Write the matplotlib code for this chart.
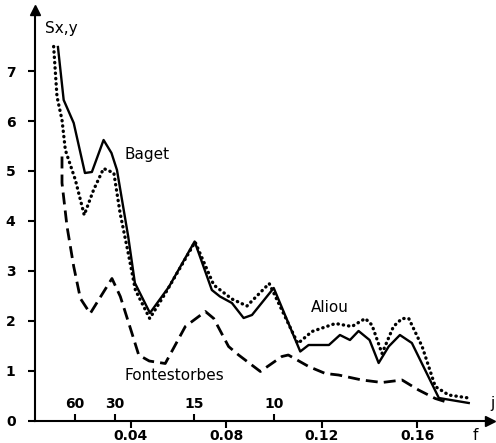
import matplotlib
matplotlib.use('Agg')
import matplotlib.pyplot as plt

# --- data (f, Sx,y) ---
baget_f = [0.0096, 0.0120, 0.0162, 0.0209, 0.0238, 0.0287, 0.0320, 0.0343, 0.0390,
           0.0418, 0.0481, 0.0560, 0.0668, 0.0740, 0.0774, 0.0824, 0.0873, 0.0908,
           0.0999, 0.1110, 0.1145, 0.1230, 0.1276, 0.1318, 0.1354, 0.1400, 0.1438,
           0.1480, 0.1527, 0.1577, 0.1690, 0.1815]
baget_s = [7.48, 6.42, 5.96, 4.96, 4.98, 5.62, 5.36, 5.02, 3.69,
           2.76, 2.16, 2.68, 3.59, 2.62, 2.49, 2.36, 2.06, 2.12,
           2.66, 1.39, 1.52, 1.52, 1.72, 1.62, 1.80, 1.62, 1.16,
           1.49, 1.72, 1.56, 0.46, 0.36]

aliou_f = [0.0078, 0.0092, 0.0113, 0.0127, 0.0169, 0.0206, 0.0245, 0.0287, 0.0330,
           0.0356, 0.0390, 0.0420, 0.0480, 0.0545, 0.0670, 0.0748, 0.0824, 0.0887,
           0.0980, 0.1100, 0.1159, 0.1257, 0.1326, 0.1382, 0.1410, 0.1452, 0.1500,
           0.1536, 0.1564, 0.1620, 0.1675, 0.1731, 0.1815]
aliou_s = [7.49, 6.49, 6.02, 5.42, 4.82, 4.12, 4.62, 5.05, 4.96,
           4.16, 3.36, 2.62, 2.05, 2.55, 3.58, 2.72, 2.44, 2.30,
           2.75, 1.55, 1.79, 1.95, 1.89, 2.05, 1.92, 1.35, 1.89,
           2.05, 2.05, 1.49, 0.69, 0.52, 0.46]

font_f = [0.0113, 0.0113, 0.0134, 0.0162, 0.0190, 0.0231, 0.0266, 0.0322, 0.0357,
          0.0406, 0.0434, 0.0478, 0.0545, 0.0629, 0.0713, 0.0748, 0.0810, 0.0852,
          0.0943, 0.1033, 0.1060, 0.1145, 0.1215, 0.1270, 0.1368, 0.1452, 0.1536,
          0.1605, 0.1675, 0.1715]
font_s = [5.29, 4.76, 3.89, 3.09, 2.45, 2.15, 2.42, 2.85, 2.49,
          1.75, 1.32, 1.20, 1.15, 1.89, 2.19, 2.05, 1.49, 1.32,
          0.99, 1.29, 1.32, 1.09, 0.95, 0.92, 0.82, 0.77, 0.82,
          0.62, 0.45, 0.39]

periods = [60, 30, 15, 10]
xticks = [0.04, 0.08, 0.12, 0.16]
xticklabels = ['0.04', '0.08', '0.12', '0.16']
yticks = [0, 1, 2, 3, 4, 5, 6, 7]

fig = plt.figure(figsize=(4.96, 4.43), dpi=100)
ax = fig.add_axes([35 / 496, 1 - 421 / 443, 455 / 496, 411 / 443])
ax.set_xlim(0, 0.1904)
ax.set_ylim(0, 8.22)

ax.plot(baget_f, baget_s, color='black', lw=1.7, solid_joinstyle='round')
ax.plot(aliou_f, aliou_s, color='black', lw=2.4, linestyle=(0, (0.1, 1.5)),
        dash_capstyle='round')
ax.plot(font_f, font_s, color='black', lw=2.0, linestyle=(0, (4.3, 2.2)))

for s in ['top', 'right']:
    ax.spines[s].set_visible(False)
for s in ['left', 'bottom']:
    ax.spines[s].set_linewidth(1.5)

# arrows at the ends of the axes
ax.plot(1, 0, marker='>', color='black', markersize=7,
        transform=ax.get_yaxis_transform(), clip_on=False)
ax.plot(0, 1, marker='^', color='black', markersize=7,
        transform=ax.get_xaxis_transform(), clip_on=False)

ax.set_xticks(xticks)
ax.set_xticklabels(xticklabels)
ax.set_yticks(yticks)
ax.tick_params(axis='both', direction='out', length=5, width=1.5,
               labelsize=10)
for lab in ax.get_xticklabels() + ax.get_yticklabels():
    lab.set_fontweight('bold')
ax.tick_params(axis='y', pad=9)
ax.tick_params(axis='x', pad=0.5)

# period axis (j = 1/f) drawn just above the f axis
period_f = [1.0 / p for p in periods]
ax.vlines(period_f, 0, 0.14, color='black', lw=1.5, clip_on=False)
for pf, p in zip(period_f, periods):
    ax.text(pf, 0.2, str(p), fontsize=10, fontweight='bold',
            ha='center', va='bottom')

ax.text(1.0, 0.043, 'j', transform=ax.transAxes, fontsize=11,
        ha='left', va='center')
fig.text(475 / 496, 1 - 435 / 443, 'f', fontsize=11, ha='center', va='center')
fig.text(45 / 496, 1 - 28 / 443, 'Sx,y', fontsize=11, ha='left', va='center')

ax.text(0.0375, 5.32, 'Baget', fontsize=11, ha='left', va='center')
ax.text(0.1155, 2.28, 'Aliou', fontsize=11, ha='left', va='center')
ax.text(0.0375, 0.92, 'Fontestorbes', fontsize=11, ha='left', va='center')

fig.savefig('out.png', dpi=100)
